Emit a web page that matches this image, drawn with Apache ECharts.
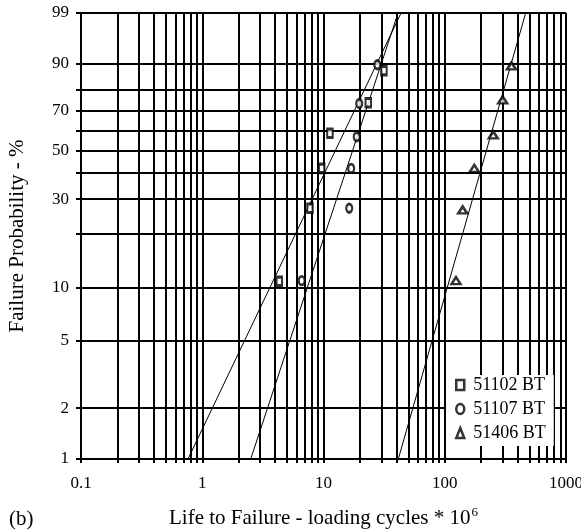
<!DOCTYPE html>
<html><head><meta charset="utf-8">
<script src="https://cdn.jsdelivr.net/npm/echarts@6/dist/echarts.min.js"></script>
<style>html,body{margin:0;padding:0;background:#fff}#c{width:581px;height:531px}</style>
</head><body><div id="c"></div>
<script>
// ---- data ----
const seriesNames = ['51102 BT', '51107 BT', '51406 BT'];
const life51102 = [4.32, 7.74, 9.66, 11.3, 23.4, 31.5];
const prob51102 = [10.9, 27.0, 42.0, 58.6, 73.9, 87.6];
const life51107 = [6.61, 16.3, 16.9, 18.8, 19.7, 27.8];
const prob51107 = [11.0, 27.0, 42.0, 56.9, 73.5, 89.6];
const life51406 = [123.8, 140.6, 175.3, 251.4, 300.6, 355];
const prob51406 = [11.0, 26.5, 42.0, 57.8, 75.2, 89.2];
// fitted Weibull lines: life at 1 % and at 99 %
const fitProb = [1, 99];
const fitLife51102 = [0.763, 43.6];
const fitLife51107 = [2.51, 41.2];
const fitLife51406 = [41.4, 465];
// axis ticks
const xGridValues = [0.1,0.2,0.3,0.4,0.5,0.6,0.7,0.8,0.9,1,2,3,4,5,6,7,8,9,10,20,30,40,50,60,70,80,90,100,200,300,400,500,600,700,800,900,1000];
const xLabelValues = [0.1, 1, 10, 100, 1000];
const xLabelTexts = ['0.1', '1', '10', '100', '1000'];
const yGridProbs = [1, 2, 5, 10, 20, 30, 40, 50, 60, 70, 80, 90, 99];
const yLabelProbs = [1, 2, 5, 10, 30, 50, 70, 90, 99];

// ---- scales (log10 for life, Weibull for probability) ----
const lx = v => Math.log10(v);
const wy = p => Math.log(-Math.log(1 - p / 100));
const FONT = '"Liberation Serif", "Times New Roman", serif';
const pairs = (xs, ys) => xs.map((x, i) => [lx(x), wy(ys[i])]);

const chart = echarts.init(document.getElementById('c'));
const markerStyle = { color: '#fff', borderColor: '#000', borderWidth: 2.5 };
const ellipse = 'path://M0,5A4,5 0 1,0 8,5A4,5 0 1,0 0,5Z';
const gridLine = { color: '#000', width: 2 };

chart.setOption({
  animation: false,
  grid: { left: 81, right: 15, top: 13, bottom: 72, containLabel: false, outerBoundsMode: 'none' },
  xAxis: {
    type: 'value', min: -1, max: 3,
    axisLine: { onZero: false, lineStyle: gridLine },
    axisTick: { show: true, customValues: xGridValues.map(lx), length: 4, lineStyle: gridLine },
    axisLabel: {
      customValues: xLabelValues.map(lx), margin: 16,
      fontFamily: FONT, fontSize: 17, color: '#000',
      formatter: v => { const i = xLabelValues.findIndex(t => Math.abs(lx(t) - v) < 1e-6); return i >= 0 ? xLabelTexts[i] : ''; }
    },
    splitLine: { show: true, lineStyle: gridLine },
    name: '{a|Life to Failure - loading cycles * 10}{b|6}',
    nameLocation: 'middle', nameGap: 47,
    nameTextStyle: {
      fontFamily: FONT, fontSize: 21, color: '#000',
      rich: {
        a: { fontFamily: FONT, fontSize: 21, color: '#000' },
        b: { fontFamily: FONT, fontSize: 13, color: '#000', padding: [0, 0, 12, 1] }
      }
    }
  },
  yAxis: {
    type: 'value', min: wy(1), max: wy(99),
    axisLine: { onZero: false, lineStyle: gridLine },
    axisTick: { show: true, customValues: yGridProbs.map(wy), length: 5, lineStyle: gridLine },
    axisLabel: {
      customValues: yLabelProbs.map(wy), margin: 12,
      fontFamily: FONT, fontSize: 17, color: '#000',
      formatter: v => { const p = yLabelProbs.find(t => Math.abs(wy(t) - v) < 1e-6); return p !== undefined ? String(p) : ''; }
    },
    splitLine: { show: true, lineStyle: gridLine },
    name: 'Failure Probability - %',
    nameLocation: 'middle', nameGap: 53, nameRotate: 90,
    nameTextStyle: { fontFamily: FONT, fontSize: 21, color: '#000' }
  },
  legend: {
    left: 446, top: 375, orient: 'vertical', selectedMode: false,
    backgroundColor: '#fff', padding: [1, 8, 4, 9], itemGap: 6,
    itemWidth: 8, itemHeight: 10,
    itemStyle: { color: '#fff', borderColor: '#000', borderWidth: 2.5 },
    textStyle: { fontFamily: FONT, fontSize: 18, color: '#000', padding: [0, 0, 0, 4] },
    data: [
      { name: seriesNames[0], icon: 'rect' },
      { name: seriesNames[1], icon: ellipse },
      { name: seriesNames[2], icon: 'triangle' }
    ]
  },
  graphic: [
    { type: 'text', left: 9, top: 509, style: { text: '(b)', fontFamily: FONT, fontSize: 21, fill: '#000' } }
  ],
  series: [
    { type: 'line', name: 'fit1', data: pairs(fitLife51102, fitProb), showSymbol: false, silent: true, lineStyle: { color: '#000', width: 1 }, z: 3 },
    { type: 'line', name: 'fit2', data: pairs(fitLife51107, fitProb), showSymbol: false, silent: true, lineStyle: { color: '#000', width: 1 }, z: 3 },
    { type: 'line', name: 'fit3', data: pairs(fitLife51406, fitProb), showSymbol: false, silent: true, lineStyle: { color: '#000', width: 1 }, z: 3 },
    { type: 'scatter', name: seriesNames[0], data: pairs(life51102, prob51102), symbol: 'rect', symbolSize: [5.5, 8.5], itemStyle: markerStyle, z: 5 },
    { type: 'scatter', name: seriesNames[1], data: pairs(life51107, prob51107), symbol: ellipse, symbolSize: [6, 8.5], itemStyle: markerStyle, z: 5 },
    { type: 'scatter', name: seriesNames[2], data: pairs(life51406, prob51406), symbol: 'triangle', symbolSize: [9, 7], itemStyle: markerStyle, z: 5 }
  ]
});
</script>
</body></html>
